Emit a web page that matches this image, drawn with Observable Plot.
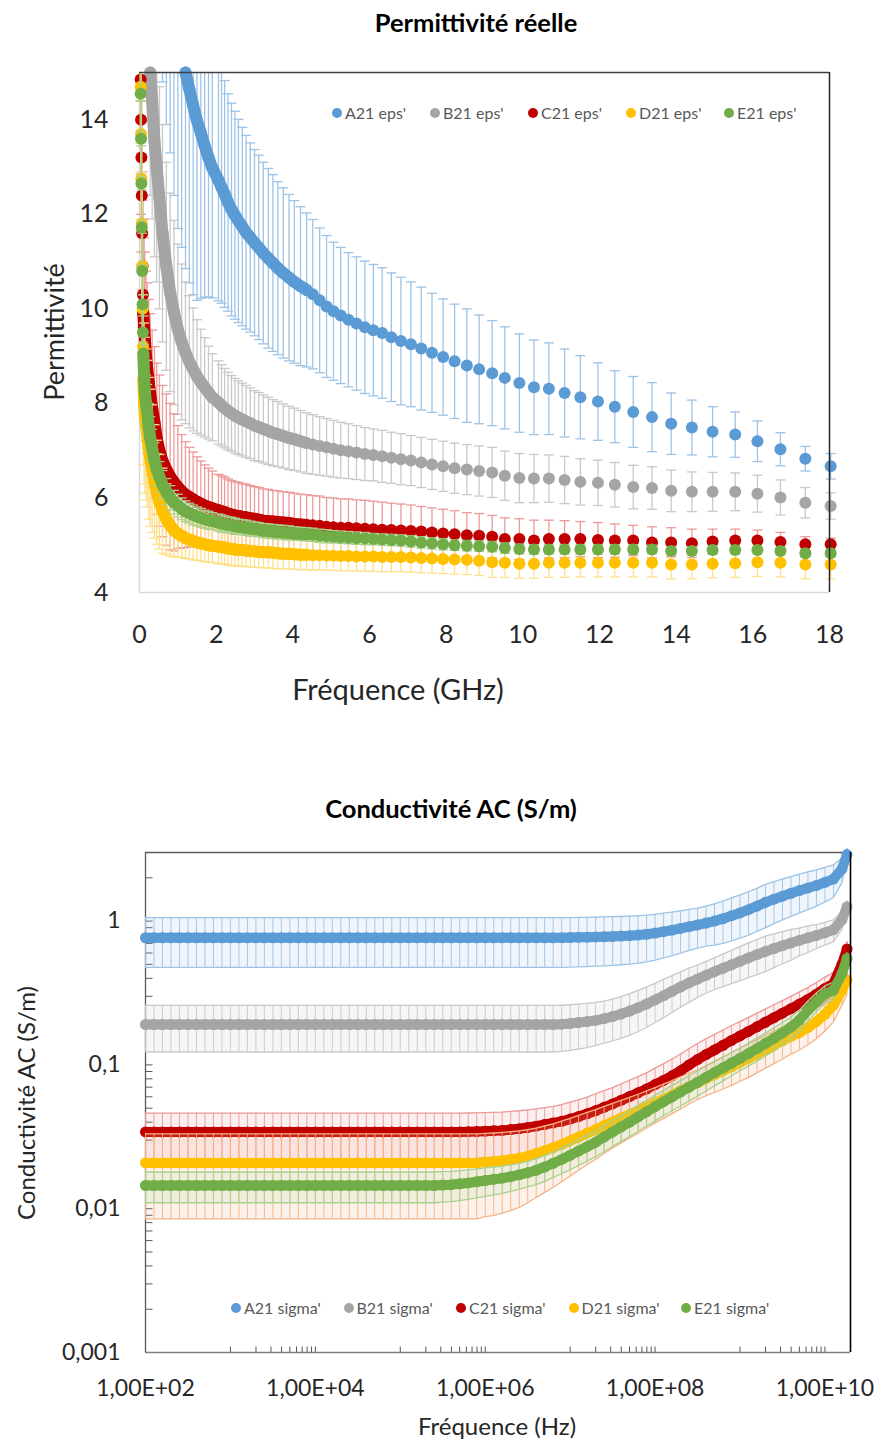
<!DOCTYPE html>
<html><head><meta charset="utf-8">
<script src="https://cdn.jsdelivr.net/npm/d3@7"></script>
<script src="https://cdn.jsdelivr.net/npm/@observablehq/plot@0.6"></script>
<style>
html,body{margin:0;padding:0;background:#fff;}
#page{position:relative;width:879px;height:1441px;overflow:hidden;font-family:Lato,"Open Sans",sans-serif;}
.abs{position:absolute;white-space:nowrap;z-index:2;}
.ctr{transform:translate(-50%,-50%);}
.title{font-weight:bold;font-size:25.5px;color:#000;}
.axlab{color:#262626;}
.rot{transform:translate(-50%,-50%) rotate(-90deg);}
.legend{display:flex;font-size:16px;color:#595959;line-height:18px;}
.legend .item{display:flex;align-items:center;}
.legend .sw{width:10px;height:10px;border-radius:50%;margin-right:3px;flex:none;}
.chart{position:absolute;left:0;z-index:1;}
</style></head>
<body><div id="page">
<div class="abs ctr title" style="left:476px;top:22px">Permittivité réelle</div>
<div class="abs rot axlab" style="left:53px;top:332px;font-size:27px">Permittivité</div>
<div class="abs ctr axlab" style="left:398px;top:688px;font-size:29px">Fréquence (GHz)</div>
<div class="abs legend" id="legTop" style="left:332px;top:104px"></div>
<div class="chart" id="chart1" style="top:0"></div>

<div class="abs ctr title" style="left:451px;top:808px">Conductivité AC (S/m)</div>
<div class="abs rot axlab" style="left:25px;top:1103px;font-size:24px">Conductivité AC (S/m)</div>
<div class="abs ctr axlab" style="left:497px;top:1425px;font-size:24px">Fréquence (Hz)</div>
<div class="abs legend" id="legBottom" style="left:231px;top:1299px"></div>
<div class="chart" id="chart2" style="top:720px"></div>
</div>
<script>
// ---------- shared ----------
const seriesColors = ["#5b9bd5", "#a5a5a5", "#c00000", "#ffc000", "#70ad47"];
const errColorsTop = ["#9dc3e6", "#c9c9c9", "#ec9a9a", "#ffe08a", "#a9d18e"];
const errColorsBottom = ["#9dc3e6", "#c9c9c9", "#ec9a9a", "#f4b183", "#a9d18e"];
const legendTop = ["A21 eps'", "B21 eps'", "C21 eps'", "D21 eps'", "E21 eps'"];
const legendBottom = ["A21 sigma'", "B21 sigma'", "C21 sigma'", "D21 sigma'", "E21 sigma'"];

// ---------- chart 1 : permittivity vs frequency (GHz) ----------
const xDomTop = [0, 18];
const yDomTop = [4, 15];
const xTicksTop = [0, 2, 4, 6, 8, 10, 12, 14, 16, 18];
const yTicksTop = [4, 6, 8, 10, 12, 14];

const freqGHz = [
 0.02,0.03,0.04,0.05,0.06,0.07,0.08,0.09,0.10,
 0.12,0.14,0.17,0.20,0.24,0.28,0.33,0.39,0.45,
 0.52,0.60,0.70,0.80,0.90,1.00,1.10,1.20,1.30,1.40,1.50,1.60,1.70,1.80,1.90,
 2.06,2.14,2.22,2.31,2.40,2.49,2.58,2.68,2.78,2.89,
 3.00,3.11,3.23,3.36,3.48,3.61,3.75,3.90,
 4.04,4.20,4.36,4.52,4.70,4.88,
 5.06,5.25,5.45,5.66,5.88,
 6.10,6.33,6.57,6.82,
 7.08,7.35,7.63,7.92,
 8.22,8.54,8.86,
 9.20,9.53,9.91,10.29,10.68,11.09,11.50,11.96,12.40,12.88,
 13.37,13.87,14.41,14.95,15.54,16.12,16.72,17.37,18.03];

const epsA = [
 null,null,null,null,null,null,null,null,null,
 null,null,null,null,null,null,null,null,null,
 21.0,19.5,18.3,17.4,16.6,16.0,15.5,15.0,14.65,14.3,13.98,13.72,13.45,13.2,12.98,
 12.72,12.57,12.43,12.25,12.10,11.98,11.86,11.74,11.62,11.51,
 11.40,11.30,11.18,11.07,10.97,10.86,10.76,10.66,
 10.57,10.48,10.40,10.31,10.18,10.05,
 9.95,9.86,9.77,9.69,9.61,
 9.55,9.49,9.40,9.32,
 9.25,9.16,9.07,8.98,
 8.89,8.80,8.72,
 8.64,8.54,8.43,8.34,8.31,8.22,8.13,8.04,7.93,7.82,
 7.71,7.57,7.49,7.40,7.34,7.20,7.03,6.83,6.67];
const errA = [
 null,null,null,null,null,null,null,null,null,
 null,null,null,null,null,null,null,null,null,
 5.5,4.7,4.4,4.1,4.2,4.3,4.2,4.15,4.1,4.0,3.8,3.5,3.2,2.95,2.75,
 2.55,2.45,2.4,2.3,2.25,2.2,2.15,2.1,2.05,2.0,
 1.97,1.95,1.92,1.9,1.87,1.83,1.8,1.76,
 1.72,1.68,1.63,1.58,1.53,1.5,
 1.46,1.44,1.42,1.41,1.4,
 1.39,1.38,1.36,1.35,
 1.32,1.3,1.26,1.23,
 1.21,1.2,1.15,
 1.11,1.08,1.04,1.0,0.97,0.93,0.88,0.82,0.76,0.75,
 0.73,0.65,0.58,0.53,0.48,0.43,0.35,0.26,0.27];

const epsB = [
 null,null,null,null,null,null,null,null,null,
 null,null,null,null,null,15.0,14.4,13.55,12.97,
 12.35,11.6,10.9,10.35,9.92,9.57,9.3,9.07,8.88,8.72,8.57,8.45,8.34,8.23,8.13,
 8.02,7.96,7.9,7.84,7.79,7.74,7.7,7.66,7.62,7.58,
 7.53,7.5,7.46,7.42,7.38,7.35,7.31,7.27,
 7.24,7.2,7.16,7.13,7.1,7.07,
 7.04,7.01,6.99,6.96,6.93,
 6.91,6.88,6.85,6.82,
 6.79,6.75,6.71,6.67,
 6.63,6.6,6.57,
 6.54,6.47,6.42,6.41,6.41,6.38,6.34,6.32,6.28,6.23,
 6.21,6.15,6.13,6.13,6.13,6.09,6.01,5.90,5.83];
const errB = [
 null,null,null,null,null,null,null,null,null,
 null,null,null,null,null,2.6,2.5,2.45,2.4,
 2.35,2.3,2.2,2.1,1.95,1.8,1.65,1.5,1.4,1.3,1.2,1.12,1.05,0.98,0.92,
 0.88,0.86,0.84,0.82,0.8,0.79,0.78,0.77,0.76,0.75,
 0.74,0.73,0.72,0.71,0.7,0.69,0.68,0.67,
 0.66,0.65,0.64,0.63,0.62,0.61,
 0.6,0.59,0.58,0.57,0.56,
 0.55,0.55,0.54,0.54,
 0.53,0.53,0.53,0.53,
 0.53,0.53,0.53,
 0.53,0.52,0.52,0.51,0.5,0.5,0.49,0.48,0.47,0.46,
 0.45,0.44,0.42,0.41,0.4,0.39,0.37,0.32,0.28];

const epsC = [
 15.6,14.85,14.0,13.2,12.4,11.6,10.9,10.3,9.9,
 9.6,9.35,9.0,8.75,8.45,8.2,7.9,7.6,7.25,
 7.0,6.78,6.6,6.45,6.33,6.23,6.14,6.07,6.02,5.97,5.92,5.88,5.84,5.81,5.78,
 5.74,5.72,5.7,5.67,5.65,5.63,5.62,5.6,5.59,5.57,
 5.56,5.54,5.52,5.51,5.5,5.49,5.48,5.47,
 5.45,5.44,5.43,5.42,5.41,5.39,
 5.38,5.37,5.37,5.36,5.35,
 5.34,5.33,5.32,5.31,
 5.3,5.29,5.27,5.25,
 5.23,5.21,5.2,
 5.18,5.13,5.13,5.10,5.13,5.13,5.13,5.11,5.10,5.10,
 5.06,5.06,5.04,5.08,5.10,5.10,5.07,5.02,5.02];
const errC = [
 2.0,2.0,2.0,2.0,2.0,2.0,2.0,2.0,2.0,
 1.9,1.85,1.8,1.8,1.75,1.7,1.65,1.6,1.6,
 1.6,1.6,1.6,1.55,1.45,1.3,1.2,1.12,1.05,1.0,0.95,0.9,0.86,0.82,0.79,
 0.76,0.75,0.74,0.73,0.72,0.71,0.71,0.7,0.7,0.69,
 0.68,0.68,0.67,0.67,0.66,0.66,0.65,0.65,
 0.65,0.64,0.64,0.63,0.63,0.62,
 0.62,0.61,0.61,0.6,0.6,
 0.59,0.58,0.57,0.56,
 0.55,0.53,0.52,0.51,
 0.5,0.48,0.47,
 0.45,0.45,0.43,0.43,0.40,0.39,0.37,0.37,0.35,0.32,
 0.33,0.31,0.30,0.26,0.24,0.22,0.20,0.16,0.13];

const epsD = [
 15.3,14.7,13.7,12.75,11.8,10.9,10.0,9.2,8.5,
 8.0,7.75,7.55,7.36,7.05,6.85,6.62,6.35,6.12,
 5.92,5.73,5.55,5.42,5.31,5.25,5.2,5.15,5.12,5.09,5.06,5.04,5.02,5.0,4.99,
 4.97,4.96,4.95,4.93,4.92,4.91,4.9,4.9,4.89,4.88,
 4.87,4.86,4.85,4.85,4.84,4.83,4.82,4.82,
 4.81,4.8,4.8,4.79,4.79,4.78,
 4.78,4.77,4.77,4.76,4.76,
 4.76,4.75,4.75,4.75,
 4.74,4.73,4.72,4.71,
 4.7,4.69,4.67,
 4.64,4.63,4.61,4.61,4.63,4.63,4.63,4.63,4.63,4.63,
 4.63,4.59,4.59,4.61,4.62,4.64,4.63,4.59,4.59];
const errD = [
 1.8,1.8,1.8,1.8,1.8,1.8,1.8,1.8,1.8,
 1.7,1.65,1.6,1.55,1.5,1.45,1.35,1.2,1.1,
 1.0,0.9,0.75,0.65,0.56,0.5,0.46,0.43,0.41,0.4,0.38,0.37,0.37,0.36,0.36,
 0.36,0.36,0.35,0.35,0.35,0.35,0.35,0.34,0.34,0.34,
 0.34,0.33,0.33,0.33,0.33,0.33,0.32,0.32,
 0.32,0.32,0.32,0.32,0.31,0.31,
 0.31,0.31,0.31,0.31,0.31,
 0.31,0.31,0.31,0.31,
 0.31,0.31,0.31,0.31,
 0.31,0.31,0.31,
 0.32,0.31,0.31,0.31,0.31,0.31,0.3,0.3,0.3,0.3,
 0.3,0.3,0.3,0.3,0.3,0.3,0.3,0.3,0.3];

const epsE = [
 15.2,14.55,13.6,12.65,11.72,10.8,10.1,9.5,9.05,
 8.55,8.25,8.0,7.85,7.5,7.27,7.05,6.8,6.6,
 6.45,6.28,6.13,6.0,5.91,5.84,5.77,5.72,5.68,5.64,5.61,5.58,5.55,5.53,5.51,
 5.48,5.46,5.45,5.43,5.42,5.4,5.39,5.38,5.37,5.35,
 5.34,5.33,5.31,5.3,5.29,5.28,5.27,5.26,
 5.25,5.24,5.23,5.22,5.2,5.19,
 5.18,5.17,5.16,5.15,5.14,
 5.13,5.12,5.11,5.1,
 5.08,5.06,5.04,5.02,
 5.0,4.99,4.98,
 4.97,4.94,4.92,4.91,4.91,4.91,4.91,4.91,4.91,4.91,
 4.91,4.88,4.88,4.90,4.90,4.90,4.88,4.83,4.83];
const errE = [
 0.8,0.8,0.8,0.8,0.8,0.8,0.8,0.8,0.8,
 0.7,0.65,0.6,0.55,0.5,0.45,0.4,0.37,0.34,
 0.32,0.3,0.28,0.26,0.25,0.24,0.23,0.22,0.21,0.21,0.2,0.2,0.19,0.19,0.18,
 0.18,0.18,0.17,0.17,0.17,0.17,0.16,0.16,0.16,0.16,
 0.15,0.15,0.15,0.15,0.15,0.15,0.15,0.15,
 0.14,0.14,0.14,0.14,0.14,0.14,
 0.13,0.13,0.13,0.13,0.13,
 0.12,0.12,0.12,0.12,
 0.12,0.12,0.12,0.12,
 0.11,0.11,0.11,
 0.11,0.11,0.1,0.1,0.1,0.1,0.1,0.1,0.1,0.1,
 0.09,0.09,0.09,0.09,0.09,0.08,0.08,0.08,0.08];

// ---------- chart 2 : AC conductivity vs frequency (Hz, log) ----------
const xDomBottom = [1e2, 2e10];
const yDomBottom = [0.001, 3];
const xTicksBottom = [1e2, 1e4, 1e6, 1e8, 1e10];
const xTickLabelsBottom = ["1,00E+02", "1,00E+04", "1,00E+06", "1,00E+08", "1,00E+10"];
const yTicksBottom = [0.001, 0.01, 0.1, 1];
const yTickLabelsBottom = ["0,001", "0,01", "0,1", "1"];
const yMinorTicksBottom = [0.002,0.003,0.004,0.005,0.006,0.007,0.008,0.009,0.01,
 0.02,0.03,0.04,0.05,0.06,0.07,0.08,0.09,0.1,
 0.2,0.3,0.4,0.5,0.6,0.7,0.8,0.9,1,2];
const xMinorTicksBottom = [1e3,2e3,3e3,4e3,5e3,6e3,7e3,8e3,9e3,1e4,
 1e5,2e5,3e5,4e5,5e5,6e5,7e5,8e5,9e5,1e6,
 1e7,2e7,3e7,4e7,5e7,6e7,7e7,8e7,9e7,1e8,
 1e9,2e9,3e9,4e9,5e9,6e9,7e9,8e9,9e9,1e10];

// log10 of frequency (Hz) of each plotted point
const logF = [
 2.0,2.1,2.2,2.3,2.4,2.5,2.6,2.7,2.8,2.9,
 3.0,3.1,3.2,3.3,3.4,3.5,3.6,3.7,3.8,3.9,
 4.0,4.1,4.2,4.3,4.4,4.5,4.6,4.7,4.8,4.9,
 5.0,5.1,5.2,5.3,5.4,5.5,5.6,5.7,5.8,5.9,
 6.0,6.1,6.2,6.3,6.4,6.5,6.6,6.7,6.8,6.9,
 7.0,7.1,7.2,7.3,7.4,7.5,7.6,7.7,7.8,7.9,
 8.0,8.1,8.2,8.3,8.4,8.5,8.6,8.7,8.8,8.9,
 9.0,9.1,9.2,9.3,9.4,9.5,9.6,9.7,9.8,9.9,
 10.0,10.1,10.2,10.26];

const sigA = [
 0.766,0.766,0.766,0.766,0.766,0.766,0.766,0.766,0.766,0.766,
 0.766,0.766,0.766,0.766,0.766,0.766,0.766,0.766,0.766,0.766,
 0.766,0.766,0.766,0.766,0.766,0.766,0.766,0.766,0.766,0.766,
 0.766,0.766,0.766,0.766,0.766,0.766,0.766,0.766,0.766,0.766,
 0.766,0.766,0.766,0.766,0.766,0.766,0.766,0.766,0.766,0.767,
 0.769,0.771,0.773,0.776,0.779,0.783,0.787,0.792,0.80,0.81,
 0.825,0.845,0.865,0.89,0.915,0.94,0.97,1.0,1.04,1.09,
 1.14,1.2,1.27,1.35,1.42,1.49,1.56,1.63,1.7,1.77,
 1.86,1.96,2.3,2.9];
const errSigA = [
 0.29,0.29,0.29,0.29,0.29,0.29,0.29,0.29,0.29,0.29,
 0.29,0.29,0.29,0.29,0.29,0.29,0.29,0.29,0.29,0.29,
 0.29,0.29,0.29,0.29,0.29,0.29,0.29,0.29,0.29,0.29,
 0.29,0.29,0.29,0.29,0.29,0.29,0.29,0.29,0.29,0.29,
 0.29,0.29,0.29,0.29,0.29,0.29,0.29,0.29,0.29,0.29,
 0.29,0.29,0.29,0.29,0.29,0.29,0.29,0.29,0.29,0.29,
 0.29,0.29,0.29,0.29,0.29,0.29,0.3,0.32,0.34,0.36,
 0.38,0.4,0.42,0.45,0.46,0.47,0.48,0.49,0.5,0.5,
 0.5,0.5,0.45,0.3];

const sigB = [
 0.191,0.191,0.191,0.191,0.191,0.191,0.191,0.191,0.191,0.191,
 0.191,0.191,0.191,0.191,0.191,0.191,0.191,0.191,0.191,0.191,
 0.191,0.191,0.191,0.191,0.191,0.191,0.191,0.191,0.191,0.191,
 0.191,0.191,0.191,0.191,0.191,0.191,0.191,0.191,0.191,0.191,
 0.191,0.191,0.191,0.191,0.191,0.191,0.191,0.191,0.191,0.192,
 0.194,0.197,0.2,0.204,0.21,0.217,0.226,0.237,0.25,0.265,
 0.283,0.303,0.325,0.348,0.372,0.395,0.42,0.445,0.47,0.497,
 0.525,0.555,0.585,0.615,0.645,0.675,0.705,0.735,0.765,0.795,
 0.83,0.87,1.02,1.26];
const errSigB = [
 0.068,0.068,0.068,0.068,0.068,0.068,0.068,0.068,0.068,0.068,
 0.068,0.068,0.068,0.068,0.068,0.068,0.068,0.068,0.068,0.068,
 0.068,0.068,0.068,0.068,0.068,0.068,0.068,0.068,0.068,0.068,
 0.068,0.068,0.068,0.068,0.068,0.068,0.068,0.068,0.068,0.068,
 0.068,0.068,0.068,0.068,0.068,0.068,0.068,0.068,0.068,0.068,
 0.068,0.068,0.068,0.068,0.068,0.07,0.073,0.076,0.08,0.083,
 0.086,0.09,0.093,0.096,0.1,0.1,0.105,0.11,0.12,0.13,
 0.14,0.15,0.16,0.17,0.17,0.17,0.17,0.16,0.16,0.15,
 0.15,0.15,0.14,0.12];

const sigC = [
 0.0342,0.0342,0.0342,0.0342,0.0342,0.0342,0.0342,0.0342,0.0342,0.0342,
 0.0342,0.0342,0.0342,0.0342,0.0342,0.0342,0.0342,0.0342,0.0342,0.0342,
 0.0342,0.0342,0.0342,0.0342,0.0342,0.0342,0.0342,0.0342,0.0342,0.0342,
 0.0342,0.0342,0.0342,0.0342,0.0342,0.0342,0.0342,0.0342,0.0343,0.0344,
 0.0346,0.0348,0.035,0.0355,0.036,0.0367,0.0375,0.0385,0.0395,0.0405,
 0.042,0.0437,0.0457,0.048,0.0507,0.0535,0.0567,0.0602,0.064,0.068,
 0.073,0.078,0.084,0.091,0.1,0.109,0.118,0.127,0.137,0.148,
 0.159,0.171,0.184,0.198,0.213,0.229,0.246,0.265,0.285,0.31,
 0.34,0.368,0.5,0.64];
const errSigC = [
 0.012,0.012,0.012,0.012,0.012,0.012,0.012,0.012,0.012,0.012,
 0.012,0.012,0.012,0.012,0.012,0.012,0.012,0.012,0.012,0.012,
 0.012,0.012,0.012,0.012,0.012,0.012,0.012,0.012,0.012,0.012,
 0.012,0.012,0.012,0.012,0.012,0.012,0.012,0.012,0.012,0.012,
 0.012,0.012,0.012,0.012,0.012,0.012,0.012,0.012,0.012,0.0125,
 0.013,0.0135,0.014,0.015,0.0155,0.016,0.017,0.018,0.019,0.02,
 0.022,0.024,0.026,0.028,0.03,0.032,0.034,0.036,0.038,0.04,
 0.041,0.043,0.045,0.047,0.049,0.051,0.054,0.057,0.06,0.064,
 0.068,0.072,0.08,0.08];

const sigD = [
 0.0208,0.0208,0.0208,0.0208,0.0208,0.0208,0.0208,0.0208,0.0208,0.0208,
 0.0208,0.0208,0.0208,0.0208,0.0208,0.0208,0.0208,0.0208,0.0208,0.0208,
 0.0208,0.0208,0.0208,0.0208,0.0208,0.0208,0.0208,0.0208,0.0208,0.0208,
 0.0208,0.0208,0.0208,0.0208,0.0208,0.0208,0.0208,0.0208,0.0208,0.0208,
 0.0211,0.0213,0.0216,0.022,0.0225,0.0232,0.0242,0.0253,0.0265,0.028,
 0.0297,0.0315,0.0335,0.0355,0.0378,0.0402,0.0427,0.0453,0.048,0.0512,
 0.0545,0.058,0.0618,0.066,0.0705,0.075,0.08,0.0855,0.091,0.097,
 0.104,0.111,0.119,0.128,0.137,0.147,0.158,0.168,0.182,0.2,
 0.225,0.26,0.33,0.39];
const errSigD = [
 0.0123,0.0123,0.0123,0.0123,0.0123,0.0123,0.0123,0.0123,0.0123,0.0123,
 0.0123,0.0123,0.0123,0.0123,0.0123,0.0123,0.0123,0.0123,0.0123,0.0123,
 0.0123,0.0123,0.0123,0.0123,0.0123,0.0123,0.0123,0.0123,0.0123,0.0123,
 0.0123,0.0123,0.0123,0.0123,0.0123,0.0123,0.0123,0.0123,0.0123,0.0123,
 0.0123,0.0123,0.0123,0.0123,0.0123,0.0122,0.0122,0.0123,0.0124,0.0126,
 0.0128,0.013,0.0132,0.0134,0.0136,0.0138,0.014,0.0142,0.0145,0.0148,
 0.015,0.0155,0.016,0.0165,0.017,0.0175,0.019,0.021,0.023,0.025,
 0.027,0.029,0.031,0.033,0.035,0.037,0.039,0.041,0.044,0.048,
 0.053,0.06,0.07,0.08];

const sigE = [
 0.0145,0.0145,0.0145,0.0145,0.0145,0.0145,0.0145,0.0145,0.0145,0.0145,
 0.0145,0.0145,0.0145,0.0145,0.0145,0.0145,0.0145,0.0145,0.0145,0.0145,
 0.0145,0.0145,0.0145,0.0145,0.0145,0.0145,0.0145,0.0145,0.0145,0.0145,
 0.0145,0.0145,0.0145,0.0145,0.0145,0.0146,0.0147,0.0149,0.0151,0.0154,
 0.0157,0.016,0.0163,0.0167,0.0172,0.0178,0.0185,0.0195,0.0207,0.022,
 0.0235,0.0252,0.027,0.029,0.0315,0.0342,0.037,0.04,0.0435,0.0472,
 0.0512,0.0555,0.06,0.0648,0.07,0.0757,0.0818,0.0885,0.0955,0.103,
 0.111,0.12,0.13,0.141,0.153,0.167,0.183,0.205,0.24,0.275,
 0.31,0.33,0.43,0.55];
const errSigE = [
 0.0035,0.0035,0.0035,0.0035,0.0035,0.0035,0.0035,0.0035,0.0035,0.0035,
 0.0035,0.0035,0.0035,0.0035,0.0035,0.0035,0.0035,0.0035,0.0035,0.0035,
 0.0035,0.0035,0.0035,0.0035,0.0035,0.0035,0.0035,0.0035,0.0035,0.0035,
 0.0035,0.0035,0.0035,0.0035,0.0035,0.0035,0.0035,0.0035,0.0035,0.0035,
 0.0035,0.0035,0.0035,0.0035,0.0035,0.0036,0.0038,0.004,0.0042,0.0045,
 0.0048,0.0052,0.0056,0.006,0.0065,0.007,0.0076,0.0082,0.0089,0.0096,
 0.0104,0.0112,0.012,0.013,0.014,0.015,0.016,0.017,0.018,0.019,
 0.02,0.022,0.024,0.026,0.028,0.03,0.032,0.035,0.038,0.041,
 0.044,0.047,0.05,0.05];

// ---------- helpers ----------
const capSymbol = {draw(ctx, size) { const w = Math.sqrt(size / Math.PI); ctx.moveTo(-w, 0); ctx.lineTo(w, 0); }};
const yTickSymbol = {draw(ctx, size) { const w = Math.sqrt(size / Math.PI); ctx.moveTo(0, 0); ctx.lineTo(w, 0); }};
const xTickSymbol = {draw(ctx, size) { const w = Math.sqrt(size / Math.PI); ctx.moveTo(0, 0); ctx.lineTo(0, -w); }};

function buildLegend(id, labels, itemWidth) {
  const el = document.getElementById(id);
  labels.forEach((lab, k) => {
    const it = document.createElement("div");
    it.className = "item";
    it.style.width = itemWidth + "px";
    const sw = document.createElement("span");
    sw.className = "sw";
    sw.style.background = seriesColors[k];
    const tx = document.createElement("span");
    tx.textContent = lab;
    it.appendChild(sw); it.appendChild(tx);
    el.appendChild(it);
  });
}
buildLegend("legTop", legendTop, 98);
buildLegend("legBottom", legendBottom, 112.5);

// ---------- chart 1 ----------
const epsSeries = [epsA, epsB, epsC, epsD, epsE];
const epsErrors = [errA, errB, errC, errD, errE];
const yLo = yDomTop[0], yHi = yDomTop[1];
const marks1 = [
  Plot.ruleX([xDomTop[0]], {stroke: "#d9d9d9", strokeWidth: 1.5}),
  Plot.ruleY([yDomTop[0]], {stroke: "#d9d9d9", strokeWidth: 1.5})
];
epsSeries.forEach((vals, k) => {
  const rows = freqGHz.map((f, i) => ({f, v: vals[i], e: epsErrors[k][i]})).filter(d => d.v != null);
  const vis = rows.filter(d => d.v - d.e < yHi);
  const shown = rows.filter(d => d.v <= yHi + 0.02);
  // dense low-frequency part: markers overlap into a continuous band
  const dense = shown.filter(d => d.f >= 0.1 && d.f <= 4.5);
  marks1.push(
    Plot.ruleX(vis, {x: "f", y1: d => Math.max(d.v - d.e, yLo), y2: d => Math.min(d.v + d.e, yHi), stroke: errColorsTop[k], strokeWidth: 1.3}),
    Plot.dot(rows.filter(d => d.v + d.e <= yHi), {x: "f", y: d => d.v + d.e, r: 5, symbol: capSymbol, fill: "none", stroke: errColorsTop[k], strokeWidth: 1.3}),
    Plot.dot(rows.filter(d => d.v - d.e >= yLo && d.v - d.e < yHi), {x: "f", y: d => d.v - d.e, r: 5, symbol: capSymbol, fill: "none", stroke: errColorsTop[k], strokeWidth: 1.3}),
    Plot.line(dense, {x: "f", y: "v", stroke: seriesColors[k], strokeWidth: 12, strokeLinecap: "round", strokeLinejoin: "round"}),
    Plot.dot(shown, {x: "f", y: "v", r: 6, fill: seriesColors[k], stroke: "none"})
  );
});
marks1.push(
  Plot.ruleY([yDomTop[1]], {stroke: "#404040", strokeWidth: 1.3}),
  Plot.ruleX([xDomTop[1]], {stroke: "#262626", strokeWidth: 1.5})
);

const chart1 = Plot.plot({
  width: 879, height: 720,
  marginLeft: 139, marginRight: 50, marginTop: 72, marginBottom: 128,
  style: {fontFamily: "Lato, sans-serif", fontSize: "25px", color: "#262626", background: "transparent", overflow: "visible"},
  x: {domain: xDomTop, ticks: xTicksTop, tickFormat: d => String(d), tickSize: 0, tickPadding: 33, label: null},
  y: {domain: yDomTop, ticks: yTicksTop, tickFormat: d => String(d), tickSize: 0, tickPadding: 31, label: null},
  marks: marks1
});
document.getElementById("chart1").appendChild(chart1);

// ---------- chart 2 ----------
const sigSeries = [sigA, sigB, sigC, sigD, sigE];
const sigErrors = [errSigA, errSigB, errSigC, errSigD, errSigE];
const marks2 = [
  Plot.ruleY([yDomBottom[0]], {stroke: "#7f7f7f", strokeWidth: 1.3}),
  Plot.ruleX([xDomBottom[0]], {stroke: "#595959", strokeWidth: 1.3}),
  Plot.ruleY([yDomBottom[1]], {stroke: "#595959", strokeWidth: 1.3}),
  Plot.dot(yMinorTicksBottom, {x: () => xDomBottom[0], y: d => d, r: 7, symbol: yTickSymbol, fill: "none", stroke: "#595959", strokeWidth: 1}),
  Plot.dot(xMinorTicksBottom, {x: d => d, y: () => yDomBottom[0], r: 6, symbol: xTickSymbol, fill: "none", stroke: "#595959", strokeWidth: 1})
];
sigSeries.forEach((vals, k) => {
  const rows = logF.map((lf, i) => ({f: Math.pow(10, lf), v: vals[i], e: sigErrors[k][i]}));
  const ec = errColorsBottom[k];
  marks2.push(
    Plot.areaY(rows, {x: "f", y1: d => d.v - d.e, y2: d => d.v + d.e, fill: ec, fillOpacity: 0.16}),
    Plot.ruleX(rows, {x: "f", y1: d => d.v - d.e, y2: d => d.v + d.e, stroke: ec, strokeWidth: 1, strokeOpacity: 0.9}),
    Plot.line(rows, {x: "f", y: d => d.v + d.e, stroke: ec, strokeWidth: 1.3}),
    Plot.line(rows, {x: "f", y: d => d.v - d.e, stroke: ec, strokeWidth: 1.3}),
    Plot.line(rows, {x: "f", y: "v", stroke: seriesColors[k], strokeWidth: 10, strokeLinecap: "round", strokeLinejoin: "round"}),
    Plot.dot(rows, {x: "f", y: "v", r: 5.5, fill: seriesColors[k], stroke: "none"})
  );
});
marks2.push(Plot.ruleX([xDomBottom[1]], {stroke: "#000", strokeWidth: 1.6}));

const chart2 = Plot.plot({
  width: 879, height: 721,
  marginLeft: 145, marginRight: 29, marginTop: 132, marginBottom: 89,
  style: {fontFamily: "Lato, sans-serif", fontSize: "23px", color: "#262626", background: "transparent", overflow: "visible"},
  x: {type: "log", domain: xDomBottom, ticks: xTicksBottom, tickFormat: d => xTickLabelsBottom[xTicksBottom.indexOf(d)], tickSize: 0, tickPadding: 27, label: null},
  y: {type: "log", domain: yDomBottom, ticks: yTicksBottom, tickFormat: d => yTickLabelsBottom[yTicksBottom.indexOf(d)], tickSize: 0, tickPadding: 25, label: null},
  marks: marks2
});
document.getElementById("chart2").appendChild(chart2);
</script>
</body></html>
